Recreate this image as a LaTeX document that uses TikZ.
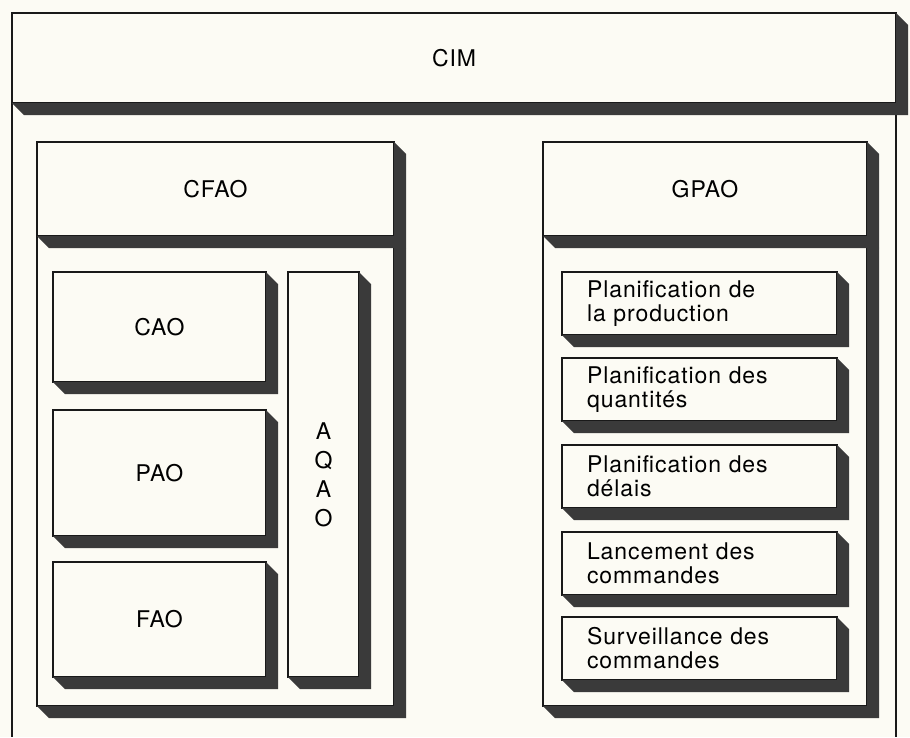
\documentclass[tikz,border=0pt]{standalone}
\usepackage{fontspec}
\setmainfont{TeX Gyre Heros}[LetterSpace=4]
\usetikzlibrary{calc}
\definecolor{paper}{RGB}{252,251,244}
\definecolor{relief}{RGB}{58,58,58}
\definecolor{ink}{RGB}{25,25,25}

\begin{document}
\begin{tikzpicture}[x=1pt,y=-1pt,
    bloc/.style={draw=ink, line width=1.4pt, fill=paper, anchor=north west,
        inner sep=0pt, outer sep=0pt, font=\fontsize{23}{24}\selectfont},
    tache/.style={bloc, minimum width=275pt, minimum height=63pt,
        text width=225pt, inner xsep=25pt, align=left},
    ombre/.style={fill=relief},
    cadre/.style={draw=ink, line width=1.4pt}]
    \useasboundingbox (0,0) rectangle (910,737);
    \fill[paper] (0,0) rectangle (910,737);
    \coordinate (bas) at (0,737);

    \node[bloc, minimum width=884pt, minimum height=90pt] (cim) at (12,13) {CIM};
    \draw[cadre] (cim.south west) -- (cim.south west |- bas);
    \draw[cadre] (cim.south east) -- (cim.south east |- bas);

    \node[bloc, minimum width=357pt, minimum height=470pt] (cfaobox) at (37,236) {};
    \node[bloc, minimum width=357pt, minimum height=94pt] (cfao) at (37,142) {CFAO};
    \node[bloc, minimum width=213pt, minimum height=110pt] (cao) at (53,272) {CAO};
    \node[bloc, minimum width=213pt, minimum height=126pt] (pao) at (53,410) {PAO};
    \node[bloc, minimum width=213pt, minimum height=115pt] (fao) at (53,562) {FAO};
    \node[bloc, minimum width=71pt, minimum height=405pt, align=center,
        font=\fontsize{23}{29}\selectfont] (aqao) at (288,272) {A\\Q\\A\\O};

    \node[bloc, minimum width=324pt, minimum height=470pt] (gpaobox) at (543,236) {};
    \node[bloc, minimum width=324pt, minimum height=94pt] (gpao) at (543,142) {GPAO};
    \node[tache] (planprod) at (562,272) {Planification de\\la production};
    \node[tache] (planqte) at (562,358) {Planification des\\quantités};
    \node[tache] (plandelai) at (562,445) {Planification des\\délais};
    \node[tache] (lancement) at (562,532) {Lancement des\\commandes};
    \node[tache] (surveillance) at (562,617) {Surveillance des\\commandes};

    \foreach \n in {cim,cfaobox,cfao,cao,pao,fao,aqao,gpaobox,gpao,
        planprod,planqte,plandelai,lancement,surveillance}
        \fill[ombre] (\n.north east) -- ++(12,12) -- ($(\n.south east)+(12,12)$)
            -- ($(\n.south west)+(12,12)$) -- (\n.south west) -- (\n.south east) -- cycle;
\end{tikzpicture}
\end{document}
